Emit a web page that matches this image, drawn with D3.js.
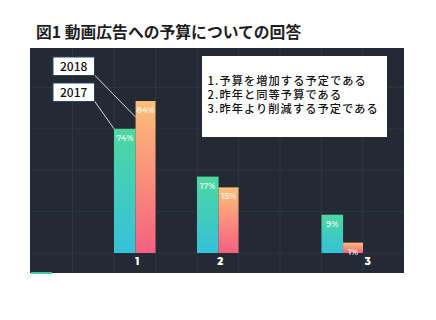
<!DOCTYPE html>
<html><head><meta charset="utf-8">
<script src="https://cdn.jsdelivr.net/npm/d3@7"></script>
<style>
html,body{margin:0;padding:0;background:#fff;}
svg{display:block;}
</style></head>
<body>
<svg id="chart" width="436" height="320"></svg>
<script>
// ---- data ----
const categories = ["1", "2", "3"];
const seriesNames = ["2017", "2018"];
// bar heights as drawn (grid units, 0-100)
const values2017 = [60, 36.9, 18.5];
const values2018 = [73.4, 31.7, 5.0];
// value labels printed on bars
const labels2017 = ["74%", "17%", "9%"];
const labels2018 = ["84%", "15%", "1%"];
// column slot of each category group on the 9-column grid
const groupSlots = [2, 4, 7];
// category tick positions on the grid
const tickSlots = [2.55, 4.55, 8.1];
const notes = ["1.予算を増加する予定である", "2.昨年と同等予算である", "3.昨年より削減する予定である"];
const title = "図1 動画広告への予算についての回答";

const svg = d3.select("#chart");
const x = d3.scaleLinear().domain([0, 9]).range([31, 404.5]);
const y = d3.scaleLinear().domain([0, 100]).range([253, 46]);

// title
svg.append("text").attr("x", 36).attr("y", 38)
  .attr("font-family", "'Noto Sans CJK JP', sans-serif").attr("font-weight", 700)
  .attr("font-size", 15.8).attr("fill", "#1e1e1e").text(title);

// panel
svg.append("rect").attr("x", 30).attr("y", 48).attr("width", 374).attr("height", 225).attr("fill", "#242a33");

// grid
const g = svg.append("g");
g.selectAll("line.v").data(d3.range(1, 9)).join("line")
  .attr("x1", d => x(d)).attr("x2", d => x(d)).attr("y1", 48).attr("y2", 273)
  .attr("stroke", "#2e353f").attr("stroke-width", 1);
g.selectAll("line.h").data([0, 20, 40, 60, 80]).join("line")
  .attr("x1", 30).attr("x2", 404).attr("y1", d => y(d)).attr("y2", d => y(d))
  .attr("stroke", "#2e353f").attr("stroke-width", 1);

// gradients
const defs = svg.append("defs");
function grad(id, top, bottom) {
  const lg = defs.append("linearGradient").attr("id", id).attr("x1", 0).attr("y1", 0).attr("x2", 0).attr("y2", 1);
  lg.append("stop").attr("offset", "0%").attr("stop-color", top);
  lg.append("stop").attr("offset", "100%").attr("stop-color", bottom);
}
grad("g2017", "#4dd8a0", "#35c1da");
grad("g2018", "#fdbf78", "#f6607f");

const split = 0.52;
const data = categories.map((c, i) => ({
  c, slot: groupSlots[i],
  v17: values2017[i], v18: values2018[i], l17: labels2017[i], l18: labels2018[i]
}));

const bars = svg.append("g");
bars.selectAll("rect.b17").data(data).join("rect")
  .attr("x", d => x(d.slot)).attr("width", d => x(d.slot + split) - x(d.slot))
  .attr("y", d => y(d.v17)).attr("height", d => y(0) - y(d.v17))
  .attr("fill", "url(#g2017)");
bars.selectAll("rect.b18").data(data).join("rect")
  .attr("x", d => x(d.slot + split)).attr("width", d => x(d.slot + 1) - x(d.slot + split))
  .attr("y", d => y(d.v18)).attr("height", d => y(0) - y(d.v18))
  .attr("fill", "url(#g2018)");

const lblFont = "Montserrat, 'Open Sans', Lato, sans-serif";
bars.selectAll("text.t17").data(data).join("text")
  .attr("x", d => (x(d.slot) + x(d.slot + split)) / 2).attr("y", d => y(d.v17) + 12)
  .attr("text-anchor", "middle").attr("font-family", lblFont).attr("font-weight", 600)
  .attr("font-size", 8.3).attr("fill", "#ffffff").attr("fill-opacity", 0.85).text(d => d.l17);
bars.selectAll("text.t18").data(data).join("text")
  .attr("x", d => (x(d.slot + split) + x(d.slot + 1)) / 2).attr("y", d => y(d.v18) + 12)
  .attr("text-anchor", "middle").attr("font-family", lblFont).attr("font-weight", 600)
  .attr("font-size", 8.3).attr("fill", "#ffffff").attr("fill-opacity", 0.85).text(d => d.l18);

// category axis
const axis = d3.axisBottom(x).tickValues(tickSlots).tickFormat((d, i) => categories[i]).tickSize(0).tickPadding(0);
const ax = svg.append("g").attr("transform", "translate(0,258)").call(axis);
ax.select(".domain").remove();
ax.selectAll("text").attr("font-family", lblFont).attr("font-weight", 800)
  .attr("font-size", 10).attr("fill", "#ffffff").attr("dy", "0.71em");

// bottom-left accent
svg.append("rect").attr("x", 31).attr("y", 272).attr("width", 21).attr("height", 2).attr("fill", "#3dcaa8");

// legend callouts
const legend = [
  {name: seriesNames[1], by: 57, tx: x(groupSlots[0] + split), ty: y(values2018[0]) + 16},
  {name: seriesNames[0], by: 83, tx: x(groupSlots[0]), ty: y(values2017[0])}
];
legend.forEach(l => {
  svg.append("line").attr("x1", 94.5).attr("y1", l.by + 18).attr("x2", l.tx).attr("y2", l.ty)
    .attr("stroke", "#d8dde2").attr("stroke-width", 1);
  svg.append("rect").attr("x", 53).attr("y", l.by).attr("width", 41.5).attr("height", 18.5)
    .attr("fill", "#ffffff").attr("stroke", "#2b4466").attr("stroke-width", 1);
  svg.append("text").attr("x", 73.7).attr("y", l.by + 13.8).attr("text-anchor", "middle")
    .attr("font-family", "'Noto Sans CJK JP', sans-serif").attr("font-weight", 500)
    .attr("font-size", 12).attr("fill", "#111").text(l.name);
});

// notes box
svg.append("rect").attr("x", 202).attr("y", 56).attr("width", 185).attr("height", 81).attr("fill", "#ffffff");
svg.append("g").selectAll("text").data(notes).join("text")
  .attr("x", 207.5).attr("y", (d, i) => 85 + i * 14)
  .attr("font-family", "'Noto Sans CJK JP', sans-serif").attr("font-weight", 500)
  .attr("font-size", 11.2).attr("letter-spacing", 1.1).attr("fill", "#111").text(d => d);
</script>
</body></html>
